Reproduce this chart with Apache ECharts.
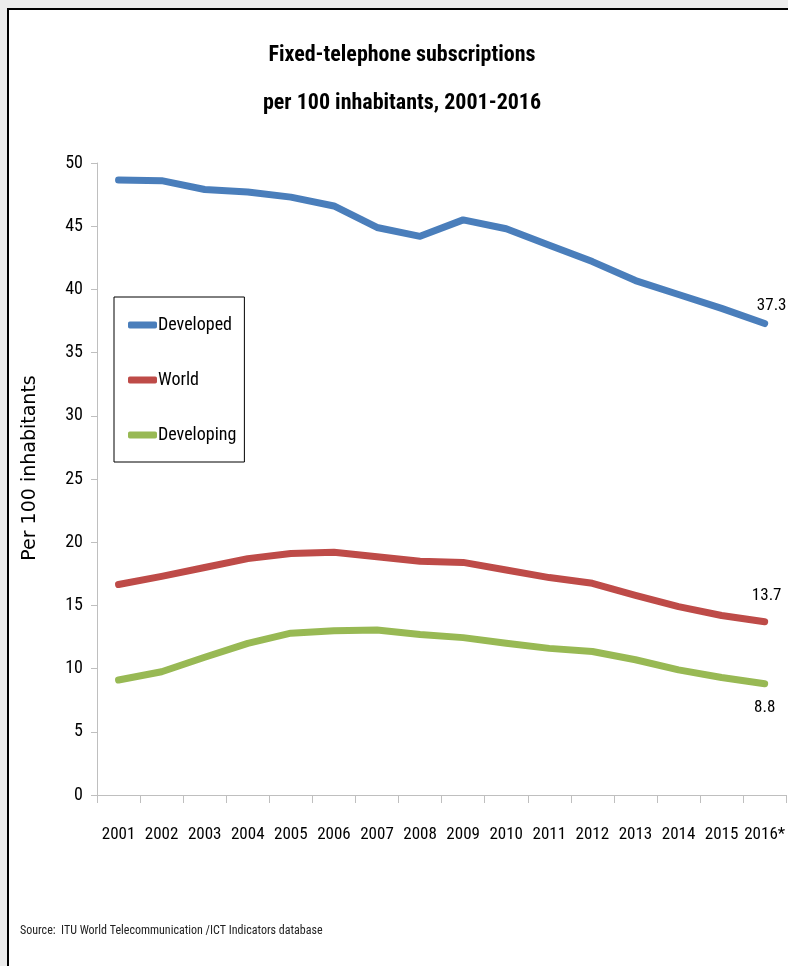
<!DOCTYPE html>
<html>
<head>
<meta charset="utf-8">
<script src="https://cdn.jsdelivr.net/npm/echarts@6/dist/echarts.min.js"></script>
<style>
    html, body { margin: 0; padding: 0; background: #ececec; }
    #chart { width: 788px; height: 966px; }
</style>
</head>
<body>
<div id="chart"></div>
<script>
var years = ['2001', '2002', '2003', '2004', '2005', '2006', '2007', '2008',
    '2009', '2010', '2011', '2012', '2013', '2014', '2015', '2016*'];
var developed = [48.65, 48.6, 47.9, 47.7, 47.3, 46.6, 44.9, 44.2, 45.5, 44.8, 43.5, 42.2, 40.7, 39.6, 38.5, 37.3];
var world = [16.65, 17.3, 18.0, 18.7, 19.1, 19.2, 18.85, 18.5, 18.4, 17.8, 17.2, 16.75, 15.8, 14.9, 14.2, 13.7];
var developing = [9.1, 9.75, 10.9, 12.0, 12.8, 13.0, 13.05, 12.7, 12.45, 12.0, 11.6, 11.35, 10.7, 9.9, 9.3, 8.8];

var narrow = '"Roboto Condensed", "DejaVu Sans Condensed", sans-serif';

function renderChart(dom) {
    if (!dom) return;
    var myChart = echarts.init(dom);

    // label only the last point of a series
    function withEndLabel(values, pos, offset) {
        return values.map(function (v, i) {
            if (i !== values.length - 1) return v;
            return {
                value: v,
                label: {
                    show: true,
                    position: pos,
                    offset: offset,
                    color: '#000',
                    fontFamily: narrow,
                    fontSize: 17,
                    formatter: '{c}'
                }
            };
        });
    }

    var lineSeries = function (name, color, data) {
        return {
            name: name,
            type: 'line',
            data: data,
            symbol: 'circle',
            symbolSize: 1,
            showSymbol: true,
            lineStyle: { width: 7, color: color, cap: 'round', join: 'round' },
            itemStyle: { color: color },
            emphasis: { disabled: true }
        };
    };

    var option = {
        backgroundColor: 'transparent',
        animation: false,
        graphic: [
            { type: 'rect', left: 7, top: 8, shape: { width: 800, height: 1000 },
              style: { fill: '#fff', stroke: '#000', lineWidth: 2 } },
            // title, centred a bit right of the page middle like the original
            { type: 'text', x: 402, y: 79,
              style: { text: 'Fixed-telephone subscriptions\nper 100 inhabitants, 2001-2016',
                       align: 'center', verticalAlign: 'middle', lineHeight: 48,
                       fill: '#000', font: 'bold 22px ' + narrow } },
            { type: 'text', left: 20, top: 925,
              style: { text: 'Source:  ITU World Telecommunication /ICT Indicators database',
                       fill: '#222', font: '12px ' + narrow } }
        ],
        legend: {
            orient: 'vertical',
            left: 114,
            top: 297,
            padding: [18, 8, 17, 14],
            itemGap: 35,
            itemWidth: 29,
            itemHeight: 7,
            borderColor: '#000',
            borderWidth: 1,
            icon: 'roundRect',
            data: ['Developed', 'World', 'Developing'],
            textStyle: { color: '#000', fontFamily: narrow, fontSize: 18, lineHeight: 20, padding: [0, 0, 0, -4] }
        },
        grid: { left: 97, right: -2, top: 163, bottom: 171 },
        xAxis: {
            type: 'category',
            data: years,
            boundaryGap: true,
            axisLine: { lineStyle: { color: '#bfbfbf', width: 1 } },
            axisTick: { show: true, length: 8, lineStyle: { color: '#bfbfbf' } },
            axisLabel: { color: '#000', fontFamily: narrow, fontSize: 17, margin: 31, interval: 0 }
        },
        yAxis: {
            type: 'value',
            min: 0,
            max: 50,
            interval: 5,
            name: 'Per 100 inhabitants',
            nameLocation: 'middle',
            nameGap: 57,
            nameTextStyle: { color: '#000', fontFamily: '"DejaVu Sans", sans-serif', fontSize: 19, padding: [0, 0, 0, 22] },
            splitLine: { show: false },
            axisLine: { show: true, lineStyle: { color: '#bfbfbf', width: 1 } },
            axisTick: { show: true, length: 6, lineStyle: { color: '#bfbfbf' } },
            axisLabel: { color: '#000', fontFamily: narrow, fontSize: 18, margin: 14 }
        },
        series: [
            lineSeries('Developed', '#4a7ebb', withEndLabel(developed, 'top', [7, -4])),
            lineSeries('World', '#be4b48', withEndLabel(world, 'top', [2, -12])),
            lineSeries('Developing', '#98b954', withEndLabel(developing, 'bottom', [0, 10]))
        ]
    };

    option && myChart.setOption(option);
}

renderChart(document.getElementById('chart'));
</script>
</body>
</html>
